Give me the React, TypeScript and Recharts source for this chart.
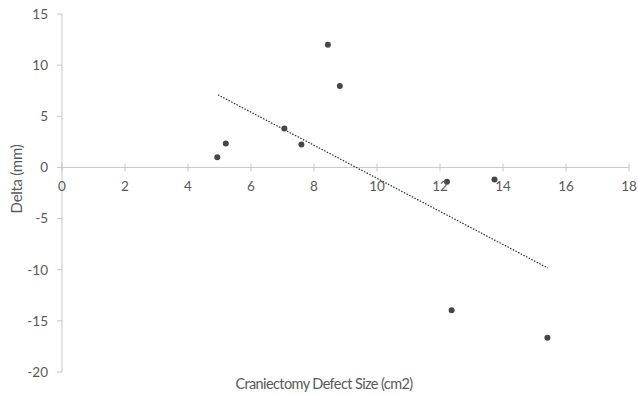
import { ScatterChart, Scatter, XAxis, YAxis, ReferenceLine, Label } from "recharts";

// defect size (cm2) vs delta (mm)
const defectSize = [4.93, 5.2, 7.06, 7.6, 8.44, 8.82, 12.22, 13.73, 12.37, 15.41];
const delta = [1.0, 2.34, 3.8, 2.24, 12.0, 7.95, -1.4, -1.17, -13.96, -16.65];

// linear trendline endpoints as drawn
const trendX = [4.95, 15.42];
const trendY = [7.1, -9.83];

const xTicks = [0, 2, 4, 6, 8, 10, 12, 14, 16, 18];
const yTicks = [-20, -15, -10, -5, 0, 5, 10, 15];

const points = defectSize.map((x, i) => ({ x, y: delta[i] }));
const trend = trendX.map((x, i) => ({ x, y: trendY[i] }));

const W = 638;
const H = 396;
const TOP = 14;
const XAXIS_H = 24;
const PLOT_H = H - TOP - XAXIS_H;
// pixel row of y = 0, where the x axis crosses
const ZERO_Y = TOP + (PLOT_H * 15) / 35;

const TEXT = "#595959";
const AXIS = "#c6c6c6";
const FONT = "Lato, 'Open Sans', sans-serif";

const XTick = (props: any) => {
  const { x, payload } = props;
  return (
    <g>
      <line x1={x} x2={x} y1={ZERO_Y - 4} y2={ZERO_Y + 4} stroke={AXIS} />
      <text x={x} y={ZERO_Y + 24} textAnchor="middle" fill={TEXT} fontSize={13.5} fontFamily={FONT}>
        {payload.value}
      </text>
    </g>
  );
};

const XTitle = () => (
  <text
    x={324}
    y={389}
    textAnchor="middle"
    fill={TEXT}
    fontSize={14.5}
    letterSpacing={-0.6}
    fontFamily={FONT}
  >
    Craniectomy Defect Size (cm2)
  </text>
);

const YTitle = () => (
  <text
    x={22}
    y={179}
    transform="rotate(-90 22 179)"
    textAnchor="middle"
    fill={TEXT}
    fontSize={15}
    letterSpacing={-0.3}
    fontFamily={FONT}
  >
    Delta (mm)
  </text>
);

export default function App() {
  return (
    <div style={{ position: "absolute", left: 0, top: 0, width: W, height: H, background: "#fff" }}>
      <ScatterChart width={W} height={H} margin={{ top: TOP, right: 9, bottom: 0, left: 0 }}>
        <XAxis
          type="number"
          dataKey="x"
          domain={[0, 18]}
          ticks={xTicks}
          height={XAXIS_H}
          axisLine={false}
          tickLine={false}
          tick={<XTick />}
          interval={0}
        >
          <Label content={<XTitle />} />
        </XAxis>
        <YAxis
          type="number"
          dataKey="y"
          domain={[-20, 15]}
          ticks={yTicks}
          width={62}
          interval={0}
          axisLine={{ stroke: AXIS }}
          tickLine={{ stroke: AXIS }}
          tickSize={5}
          tickMargin={9}
          tick={{ fill: TEXT, fontSize: 13.5, fontFamily: FONT }}
        >
          <Label content={<YTitle />} />
        </YAxis>
        <ReferenceLine y={0} stroke={AXIS} />
        <Scatter
          data={trend}
          line={{ stroke: "#2a2a2a", strokeWidth: 1.2, strokeDasharray: "1.5 1.5" }}
          shape={() => null}
          isAnimationActive={false}
        />
        <Scatter
          data={points}
          fill="#464646"
          shape={(p: any) => <circle cx={p.cx} cy={p.cy} r={3} fill="#464646" />}
          isAnimationActive={false}
        />
      </ScatterChart>
    </div>
  );
}
